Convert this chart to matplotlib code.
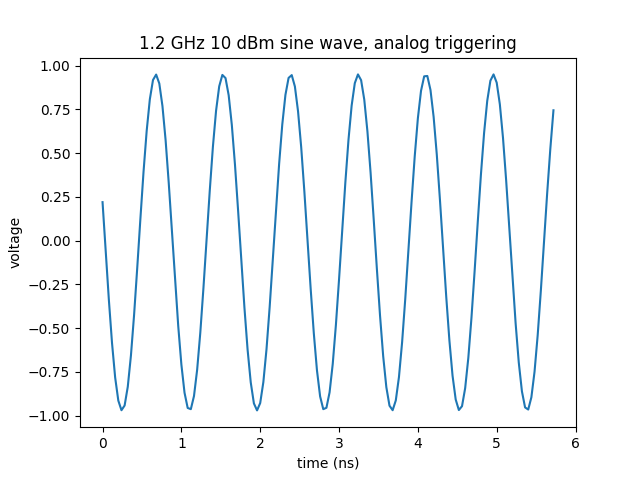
import matplotlib

matplotlib.use("Agg")
import matplotlib.pyplot as plt
import numpy as np

# scope capture, one sample every 40 ps
sample_step_ns = 0.04
voltage = [
    0.22, -0.062, -0.337, -0.584, -0.782, -0.914, -0.969, -0.942, -0.835, -0.657,
    -0.425, -0.156, 0.124, 0.394, 0.628, 0.808, 0.918, 0.949, 0.898, 0.769,
    0.574, 0.328, 0.054, -0.226, -0.487, -0.708, -0.869, -0.956, -0.963, -0.888,
    -0.738, -0.526, -0.270, 0.009, 0.285, 0.537, 0.742, 0.882, 0.947, 0.929,
    0.831, 0.661, 0.434, 0.169, -0.111, -0.383, -0.623, -0.810, -0.930, -0.970,
    -0.928, -0.808, -0.620, -0.379, -0.107, 0.173, 0.438, 0.664, 0.833, 0.930,
    0.946, 0.881, 0.739, 0.534, 0.282, 0.005, -0.274, -0.529, -0.741, -0.890,
    -0.963, -0.955, -0.867, -0.705, -0.483, -0.222, 0.058, 0.332, 0.577, 0.772,
    0.900, 0.950, 0.917, 0.806, 0.625, 0.390, 0.120, -0.161, -0.428, -0.660,
    -0.837, -0.943, -0.969, -0.913, -0.780, -0.581, -0.333, -0.058, 0.222, 0.481,
    0.699, 0.856, 0.939, 0.941, 0.861, 0.707, 0.492, 0.234, -0.045, -0.321,
    -0.570, -0.772, -0.908, -0.968, -0.946, -0.843, -0.670, -0.440, -0.173, 0.108,
    0.378, 0.615, 0.799, 0.914, 0.950, 0.903, 0.779, 0.587, 0.344, 0.071,
    -0.209, -0.472, -0.696, -0.861, -0.953, -0.965, -0.895, -0.749, -0.540, -0.286,
    -0.008, 0.269, 0.523, 0.745,
]
time_ns = np.round(np.arange(len(voltage)) * sample_step_ns, 2)

plt.figure(figsize=(6.4, 4.8), dpi=100)
plt.plot(time_ns, voltage)
plt.xlabel("time (ns)")
plt.ylabel("voltage")
plt.title("1.2 GHz 10 dBm sine wave, analog triggering")
plt.savefig("out.png")
